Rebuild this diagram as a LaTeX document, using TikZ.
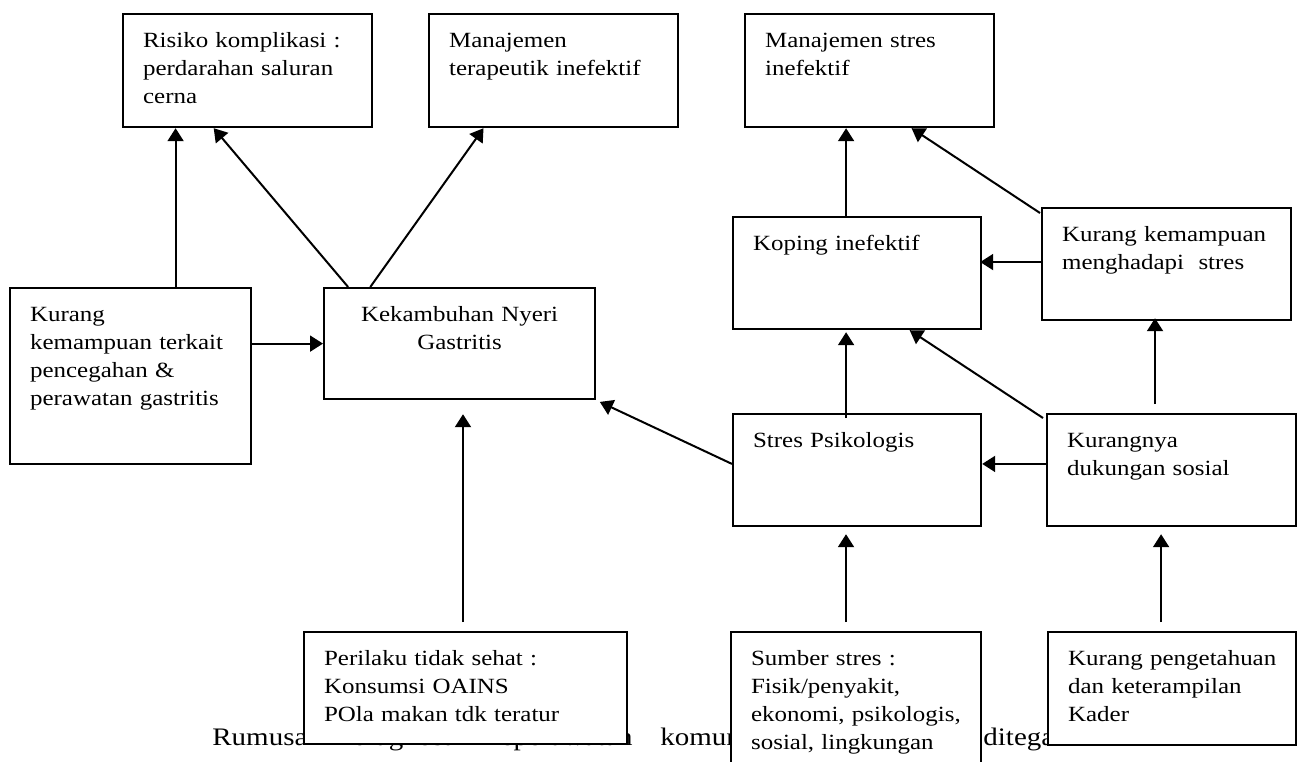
\documentclass[tikz,border=0pt]{standalone}
\usepackage{fontspec}
\setmainfont{Liberation Serif}[FakeStretch=1.15]
\usetikzlibrary{arrows.meta,calc}
% box text, indented from the left border
\newcommand\inset[1]{\leftskip=10pt\relax #1\par}
\begin{document}
\begin{tikzpicture}[x=0.5pt,y=-0.5pt,
  bx/.style={draw, line width=1.1pt, fill=white, anchor=north west,
    inner xsep=0pt, inner ysep=10pt, text height=6.5pt, align=left,
    font=\fontsize{10.85}{14}\selectfont},
  arr/.style={line width=1pt, -{Triangle[length=6.5pt,width=8pt]}},
  captxt/.style={inner sep=0pt, font=\fontsize{12.6}{15}\selectfont}]
\useasboundingbox (0,0) rectangle (1301,761);

% caption line (partly covered by the lower boxes)
\node[captxt, anchor=base west] (c1) at (212,745) {Rumusan};
\node[captxt, anchor=base west] (c2) at (353,745) {diagnosa};
\node[captxt, anchor=base east] (c3) at (633,745) {keperawatan};
\node[captxt, anchor=base west] (c4) at (660,745) {komunitas};
\node[captxt, anchor=base west] (c6) at (983,745) {ditegakkan};

% top row
\node[bx, text width=124.5pt, text depth=30pt] (risk) at (122,13)
  {\inset{Risiko komplikasi :\\ perdarahan saluran\\ cerna}};
\node[bx, text width=124.5pt, text depth=30pt] (mter) at (428,13)
  {\inset{Manajemen\\ terapeutik inefektif}};
\node[bx, text width=124.5pt, text depth=30pt] (mstr) at (744,13)
  {\inset{Manajemen stres\\ inefektif}};

% middle rows
\node[bx, text width=124pt, text depth=29.5pt] (kop) at (732,216)
  {\inset{Koping inefektif}};
\node[bx, text width=124.5pt, text depth=29.5pt] (kkm) at (1041,207)
  {\inset{Kurang kemampuan\\ menghadapi\ \ stres}};
\node[bx, text width=120.5pt, text depth=61.5pt] (kt) at (9,287)
  {\inset{Kurang\\ kemampuan terkait\\ pencegahan \&\\ perawatan gastritis}};
\node[bx, align=center, text width=135.5pt, text depth=29pt] (kek) at (323,287)
  {Kekambuhan Nyeri\\ Gastritis};
\node[bx, text width=124pt, text depth=29.5pt] (sp) at (732,413)
  {\inset{Stres Psikologis}};
\node[bx, text width=124.5pt, text depth=29.5pt] (kds) at (1046,413)
  {\inset{Kurangnya\\ dukungan sosial}};

% bottom row
\node[bx, text width=161.5pt, text depth=29.5pt] (per) at (303,631)
  {\inset{Perilaku tidak sehat :\\ Konsumsi OAINS\\ POla makan tdk teratur}};
\node[bx, text width=125pt, text depth=48.5pt] (sum) at (730,631)
  {\inset{Sumber stres :\\ Fisik/penyakit,\\ ekonomi, psikologis,\\ sosial, lingkungan}};
\node[bx, text width=124pt, text depth=30pt] (kad) at (1047,631)
  {\inset{Kurang pengetahuan\\ dan keterampilan\\ Kader}};

% connectors
\draw[arr] ($(kt.north west)!0.685!(kt.north east)$) coordinate (a1) -- (a1 |- risk.south);
\draw[arr] ($(kek.north west)!0.092!(kek.north east)$) -- ($(risk.south west)!0.365!(risk.south east)$);
\draw[arr] ($(kek.north west)!0.173!(kek.north east)$) -- ($(mter.south west)!0.221!(mter.south east)$);
\draw[arr] (kek.west -| kt.east) -- (kek.west);
\draw[arr, shorten <=4.5pt, shorten >=7pt] ($(per.north west)!0.492!(per.north east)$) coordinate (a5) -- (a5 |- kek.south);
\draw[arr, shorten >=2pt] ($(sp.north west)!0.446!(sp.south west)$) -- (kek.south east);
\draw[arr, shorten <=-2.5pt, shorten >=1pt] ($(sp.north west)!0.456!(sp.north east)$) coordinate (a7) -- (a7 |- kop.south);
\draw[arr] ([shift={(-3,5)}]kds.north west) -- ($(kop.south west)!0.71!(kop.south east)$);
\draw[arr] ($(kds.north west)!0.446!(kds.south west)$) coordinate (a9) -- (a9 -| sp.east);
\draw[arr, shorten <=4.5pt, shorten >=-1.5pt] ($(kds.north west)!0.434!(kds.north east)$) coordinate (a10) -- (a10 |- kkm.south);
\draw[arr, shorten >=-1pt] ($(kkm.north west)!0.482!(kkm.south west)$) coordinate (a11) -- (a11 -| kop.east);
\draw[arr] ([shift={(-1,6)}]kkm.north west) -- ($(mstr.south west)!0.667!(mstr.south east)$);
\draw[arr] ($(kop.north west)!0.456!(kop.north east)$) coordinate (a13) -- (a13 |- mstr.south);
\draw[arr, shorten <=4.5pt, shorten >=3.5pt] ($(sum.north west)!0.46!(sum.north east)$) coordinate (a14) -- (a14 |- sp.south);
\draw[arr, shorten <=4.5pt, shorten >=3.5pt] ($(kad.north west)!0.456!(kad.north east)$) coordinate (a15) -- (a15 |- kds.south);
\end{tikzpicture}
\end{document}
